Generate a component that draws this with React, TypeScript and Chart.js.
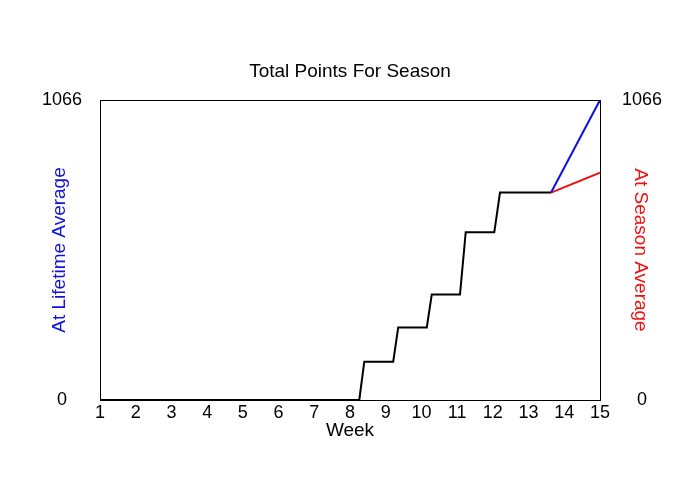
import { useEffect, useRef } from "react";
import Chart from "chart.js/auto";

// weeks (x) and cumulative points for the played part of the season
const actualWeeks = [1, 8.26, 8.4, 9.21, 9.35, 10.15, 10.29, 11.08, 11.24, 12.04, 12.2, 13.63];
const actualPoints = [0, 0, 136, 136, 258, 258, 375, 375, 596, 596, 737, 737];

// projections from the last played point to the end of the season
const projWeeks = [13.63, 15];
const lifetimePoints = [737, 1066];
const seasonPoints = [737, 808];

const yTicks = [0, 1066];
const weekMin = 1;
const weekMax = 15;

const FONT = "Arial, 'Liberation Sans', sans-serif";

const toXY = (xs: number[], ys: number[]) => xs.map((x, i) => ({ x, y: ys[i] }));

const frame = {
    id: "frame",
    afterDraw(chart: Chart) {
        const { ctx, chartArea: a } = chart;
        ctx.save();
        ctx.strokeStyle = "#000";
        ctx.lineWidth = 1;
        ctx.strokeRect(a.left + 0.5, a.top + 0.5, a.right - a.left, a.bottom - a.top);
        ctx.restore();
    },
};

const App = () => {
    const canvasRef = useRef<HTMLCanvasElement | null>(null);

    useEffect(() => {
        document.body.style.margin = "0";
        if (!canvasRef.current) return;
        const ctx = canvasRef.current.getContext("2d");
        if (!ctx) return;

        const yAxis = (pos: "left" | "right", title: string, color: string, pad: number) => ({
            type: "linear" as const,
            position: pos,
            display: true,
            min: yTicks[0],
            max: yTicks[yTicks.length - 1],
            grid: { display: false, drawTicks: false },
            border: { display: false },
            afterBuildTicks: (scale: any) => {
                scale.ticks = yTicks.map((v) => ({ value: v }));
            },
            afterFit: (scale: any) => {
                scale.width = 100;
            },
            ticks: {
                color: "#000",
                padding: pad,
                crossAlign: "center" as const,
                font: { family: FONT, size: 18 },
                callback: (v: any) => String(v),
            },
            title: {
                display: true,
                text: title,
                color,
                font: { family: FONT, size: 19 },
                padding: { top: 48.6, bottom: 0 },
            },
        });

        const chart = new Chart(ctx, {
            type: "line",
            data: {
                datasets: [
                    {
                        label: "Lifetime",
                        data: toXY(projWeeks, lifetimePoints),
                        borderColor: "#1010e0",
                        borderWidth: 2,
                        pointRadius: 0,
                        yAxisID: "y",
                    },
                    {
                        label: "Season",
                        data: toXY(projWeeks, seasonPoints),
                        borderColor: "#f01010",
                        borderWidth: 2,
                        pointRadius: 0,
                        yAxisID: "y",
                    },
                    {
                        label: "Actual",
                        data: toXY(actualWeeks, actualPoints),
                        borderColor: "#000",
                        borderWidth: 2,
                        pointRadius: 0,
                        yAxisID: "y",
                    },
                ],
            },
            options: {
                responsive: false,
                animation: false,
                layout: { padding: 0 },
                plugins: {
                    legend: { display: false },
                    tooltip: { enabled: false },
                    title: {
                        display: true,
                        text: "Total Points For Season",
                        color: "#000",
                        font: { family: FONT, size: 19, weight: "normal" },
                        padding: { top: 60.6, bottom: 16.6 },
                    },
                },
                scales: {
                    x: {
                        type: "linear",
                        min: weekMin,
                        max: weekMax,
                        grid: { display: false, drawTicks: false },
                        border: { display: false },
                        afterFit: (scale: any) => {
                            scale.height = 100;
                        },
                        ticks: {
                            stepSize: 1,
                            color: "#000",
                            padding: 2,
                            maxRotation: 0,
                            autoSkip: false,
                            font: { family: FONT, size: 18 },
                        },
                        title: {
                            display: true,
                            text: "Week",
                            color: "#000",
                            font: { family: FONT, size: 19 },
                            padding: { top: 0, bottom: 57.6 },
                        },
                    },
                    y: yAxis("left", "At Lifetime Average", "#1010e0", 18),
                    y2: yAxis("right", "At Season Average", "#f01010", 22),
                },
            },
            plugins: [frame],
        });

        return () => {
            chart.destroy();
        };
    }, []);

    return <canvas ref={canvasRef} width={700} height={500}></canvas>;
};

export default App;
